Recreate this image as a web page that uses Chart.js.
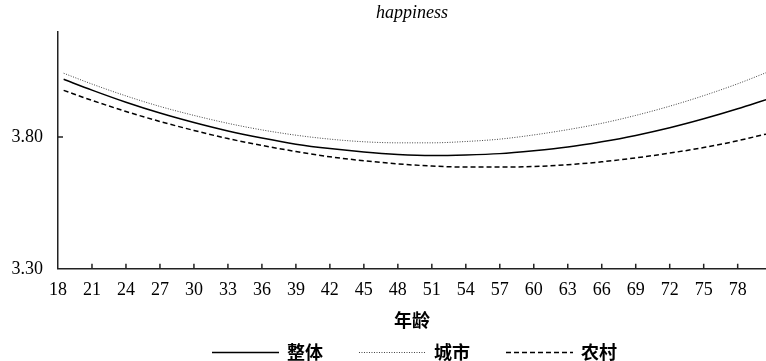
<!DOCTYPE html>
<html>
<head>
<meta charset="utf-8">
<script src="https://cdn.jsdelivr.net/npm/chart.js@4/dist/chart.umd.min.js"></script>
<style>
  html, body { margin: 0; padding: 0; background: #fff; }
  #wrap { width: 766px; height: 361px; }
</style>
</head>
<body>
<div id="wrap"><canvas id="c"></canvas></div>
<script>
// Predicted happiness by age
const ages    = [18.5, 21, 24, 27, 30, 33, 36, 39, 42, 45, 48, 51, 54, 57, 60, 63, 66, 69, 72, 75, 78, 80.5];
const overall = [4.019, 3.978, 3.932, 3.891, 3.855, 3.823, 3.796, 3.773, 3.756, 3.743, 3.734, 3.730, 3.732, 3.737, 3.748, 3.762, 3.782, 3.806, 3.835, 3.869, 3.907, 3.942];
const urban   = [4.042, 4.001, 3.956, 3.916, 3.882, 3.852, 3.827, 3.807, 3.792, 3.782, 3.778, 3.778, 3.783, 3.792, 3.808, 3.828, 3.852, 3.882, 3.917, 3.957, 4.002, 4.044];
const rural   = [3.977, 3.939, 3.897, 3.859, 3.825, 3.794, 3.768, 3.745, 3.725, 3.710, 3.698, 3.690, 3.686, 3.686, 3.688, 3.695, 3.706, 3.721, 3.739, 3.760, 3.786, 3.811];
const seriesNames = ['整体', '城市', '农村'];
const xTickValues = [18, 21, 24, 27, 30, 33, 36, 39, 42, 45, 48, 51, 54, 57, 60, 63, 66, 69, 72, 75, 78];
const yTickValues = [3.3, 3.8];

const SERIF = '"Liberation Serif", "Times New Roman", serif';
const CJK = '"Noto Sans CJK SC", sans-serif';
const AXIS_COLOR = '#222';

const toPoints = vals => vals.map((v, i) => ({ x: ages[i], y: v }));

// short tick marks pointing into the plot area
const innerTicks = {
  id: 'innerTicks',
  afterDatasetsDraw(chart) {
    const { ctx, chartArea: a, scales: { x, y } } = chart;
    ctx.save();
    ctx.strokeStyle = AXIS_COLOR;
    ctx.lineWidth = 1.5;
    ctx.beginPath();
    x.ticks.forEach(t => {
      const px = x.getPixelForValue(t.value);
      if (px > a.left + 1) { ctx.moveTo(px, a.bottom); ctx.lineTo(px, a.bottom - 5); }
    });
    y.ticks.forEach(t => {
      const py = y.getPixelForValue(t.value);
      if (py < a.bottom - 1) { ctx.moveTo(a.left, py); ctx.lineTo(a.left + 5, py); }
    });
    ctx.stroke();
    ctx.restore();
  }
};

// legend row with long line samples under the axis title
const lineLegend = {
  id: 'lineLegend',
  afterDraw(chart) {
    const { ctx, chartArea: a } = chart;
    const lineLen = 67, gap = 8, spacing = 36;
    ctx.save();
    ctx.font = 'bold 18px ' + CJK;
    const items = chart.data.datasets.map(ds => ({ ds, w: lineLen + gap + ctx.measureText(ds.label).width }));
    const total = items.reduce((s, it) => s + it.w, 0) + spacing * (items.length - 1);
    let x = Math.round((a.left + a.right) / 2 + 2 - total / 2);
    const y = chart.height - 9;
    items.forEach(it => {
      ctx.beginPath();
      ctx.strokeStyle = it.ds.borderColor;
      ctx.lineWidth = it.ds.borderWidth;
      ctx.setLineDash(it.ds.borderDash || []);
      ctx.moveTo(x, y + 0.5);
      ctx.lineTo(x + lineLen, y + 0.5);
      ctx.stroke();
      ctx.setLineDash([]);
      ctx.fillStyle = '#000';
      ctx.textAlign = 'left';
      ctx.textBaseline = 'middle';
      ctx.fillText(it.ds.label, x + lineLen + gap, y);
      x += it.w + spacing;
    });
    ctx.restore();
  }
};

new Chart(document.getElementById('c'), {
  type: 'line',
  data: {
    datasets: [
      { label: seriesNames[0], data: toPoints(overall), borderColor: '#000', borderWidth: 1.5, borderDash: [] },
      { label: seriesNames[1], data: toPoints(urban), borderColor: '#444', borderWidth: 1, borderDash: [1, 1.5] },
      { label: seriesNames[2], data: toPoints(rural), borderColor: '#000', borderWidth: 1.5, borderDash: [5, 3] }
    ]
  },
  options: {
    responsive: true,
    maintainAspectRatio: false,
    animation: false,
    devicePixelRatio: 1,
    layout: { padding: { left: 0, right: 0, top: 0, bottom: 30 } },
    elements: {
      point: { radius: 0, hoverRadius: 0 },
      line: { cubicInterpolationMode: 'monotone', fill: false }
    },
    plugins: {
      legend: { display: false },
      tooltip: { enabled: false },
      title: {
        display: true,
        text: 'happiness',
        fullSize: false,
        color: '#000',
        font: { family: SERIF, size: 18, style: 'italic', weight: 'normal' },
        padding: { top: 2, bottom: 8 }
      }
    },
    scales: {
      x: {
        type: 'linear',
        min: 18,
        max: 80.5,
        afterBuildTicks: s => { s.ticks = xTickValues.map(v => ({ value: v })); },
        grid: { display: false, drawTicks: false },
        border: { display: true, color: AXIS_COLOR, width: 1.5 },
        ticks: {
          color: '#000',
          font: { family: SERIF, size: 18 },
          padding: 11,
          maxRotation: 0,
          autoSkip: false,
          callback: v => String(v)
        },
        title: {
          display: true,
          text: '年龄',
          color: '#000',
          font: { family: CJK, size: 18, weight: 'bold' },
          padding: { top: -3, bottom: 0 }
        }
      },
      y: {
        type: 'linear',
        min: 3.3,
        max: 4.2,
        afterBuildTicks: s => { s.ticks = yTickValues.map(v => ({ value: v })); },
        afterFit: s => { s.width = 58; },
        grid: { display: false, drawTicks: false },
        border: { display: true, color: AXIS_COLOR, width: 1.5 },
        ticks: {
          color: '#000',
          font: { family: SERIF, size: 18 },
          padding: 15,
          callback: v => Number(v).toFixed(2)
        }
      }
    }
  },
  plugins: [innerTicks, lineLegend]
});
</script>
</body>
</html>
